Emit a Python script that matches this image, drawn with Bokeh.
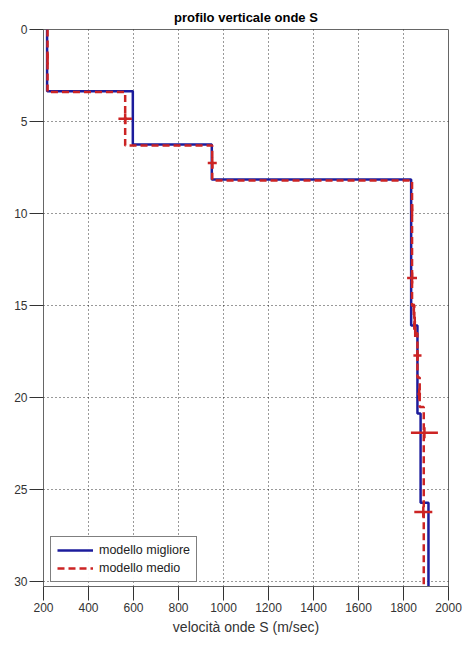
from bokeh.plotting import figure
from bokeh.models import Range1d, FixedTicker, Legend, LegendItem
from bokeh.embed import file_html
from bokeh.resources import INLINE

# ---- data ----
# modello migliore: layer top, bottom, velocity
best_top = [0.0, 3.36, 6.24, 8.14, 16.07, 20.85, 25.7]
best_bot = [3.36, 6.24, 8.14, 16.07, 20.85, 25.7, 30.25]
best_vel = [216, 597, 948, 1834, 1862, 1876, 1911]

# modello medio: layer top, bottom, velocity
mean_top = [0.0, 3.4, 6.3, 8.2, 15.0, 16.5, 18.9, 20.5]
mean_bot = [3.4, 6.3, 8.2, 15.0, 16.5, 18.9, 20.5, 30.25]
mean_vel = [218, 563, 950, 1838, 1848, 1862, 1872, 1890]

# error crosses of modello medio: depth, velocity, half-width
cross_depth = [1.6, 4.85, 7.25, 9.8, 13.5, 15.2, 15.9, 16.4, 17.7, 19.8, 21.9, 26.2]
cross_vel = [218, 563, 950, 1838, 1838, 1846, 1850, 1852, 1862, 1870, 1893, 1888]
cross_err = [3, 30, 20, 5, 22, 5, 6, 5, 18, 8, 60, 40]

x_ticks = [200, 400, 600, 800, 1000, 1200, 1400, 1600, 1800, 2000]
y_ticks = [0, 5, 10, 15, 20, 25, 30]

title_text = "profilo verticale onde S"
x_label = "velocità onde S (m/sec)"
legend_labels = ["modello migliore", "modello medio"]


def step_xy(tops, bots, vels):
    xs, ys = [], []
    for t, b, v in zip(tops, bots, vels):
        xs += [v, v]
        ys += [t, b]
    return xs, ys


FONT = "Liberation Sans"
BLUE = "#1c1c9c"
RED = "#cc2424"

p = figure(width=464, height=646, output_backend="svg", toolbar_location=None,
           x_range=Range1d(200, 2000), y_range=Range1d(30.25, 0),
           min_border_left=43, min_border_right=16, min_border_top=29,
           min_border_bottom=60)

p.title.text = title_text
p.title.align = "center"
p.title.text_font = FONT
p.title.text_font_size = "13px"
p.title.text_font_style = "bold"
p.title.text_color = "#000000"
p.title.offset = 40

bx, by = step_xy(best_top, best_bot, best_vel)
mx, my = step_xy(mean_top, mean_bot, mean_vel)

r_best = p.line(bx, by, line_color=BLUE, line_width=2.5)
r_mean = p.line(mx, my, line_color=RED, line_width=2.5, line_dash="7 4")

x0 = [v - e for v, e in zip(cross_vel, cross_err)]
x1 = [v + e for v, e in zip(cross_vel, cross_err)]
p.segment(x0=x0, x1=x1, y0=cross_depth, y1=cross_depth, line_color=RED, line_width=2.5)
p.segment(x0=cross_vel, x1=cross_vel, y0=[d - 0.3 for d in cross_depth],
          y1=[d + 0.3 for d in cross_depth], line_color=RED, line_width=2.5)

for ax in (p.xaxis[0], p.yaxis[0]):
    ax.axis_line_color = "#666666"
    ax.major_tick_line_color = "#333333"
    ax.major_tick_in = 0
    ax.major_tick_out = 14
    ax.minor_tick_line_color = None
    ax.major_label_text_font = FONT
    ax.major_label_text_font_size = "12px"
    ax.major_label_text_color = "#333333"

p.xaxis.ticker = FixedTicker(ticks=x_ticks)
p.yaxis.ticker = FixedTicker(ticks=y_ticks)
p.xaxis.axis_label = x_label
p.xaxis.axis_label_text_font = FONT
p.xaxis.axis_label_text_font_size = "14px"
p.xaxis.axis_label_text_font_style = "normal"
p.xaxis.axis_label_text_color = "#333333"
p.xaxis.axis_label_standoff = 4
p.xaxis.major_label_standoff = 2
p.yaxis.major_label_standoff = 2

p.xgrid.ticker = FixedTicker(ticks=x_ticks)
p.ygrid.ticker = FixedTicker(ticks=y_ticks)
p.grid.grid_line_color = "#000000"
p.grid.grid_line_dash = "1 3"
p.grid.grid_line_width = 1
p.grid.grid_line_alpha = 0.8

p.outline_line_color = "#666666"
p.background_fill_color = "white"
p.border_fill_color = "white"

legend = Legend(items=[LegendItem(label=legend_labels[0], renderers=[r_best]),
                       LegendItem(label=legend_labels[1], renderers=[r_mean])],
                location=(7, 4))
legend.label_text_font = FONT
legend.label_text_font_size = "12.5px"
legend.label_text_color = "#222222"
legend.border_line_color = "#000000"
legend.border_line_width = 1
legend.glyph_width = 36
legend.glyph_height = 14
legend.label_standoff = 6
legend.spacing = 4
legend.padding = 6
legend.margin = 0
legend.label_height = 14
p.add_layout(legend)

open("out.html", "w").write(file_html(p, INLINE))
